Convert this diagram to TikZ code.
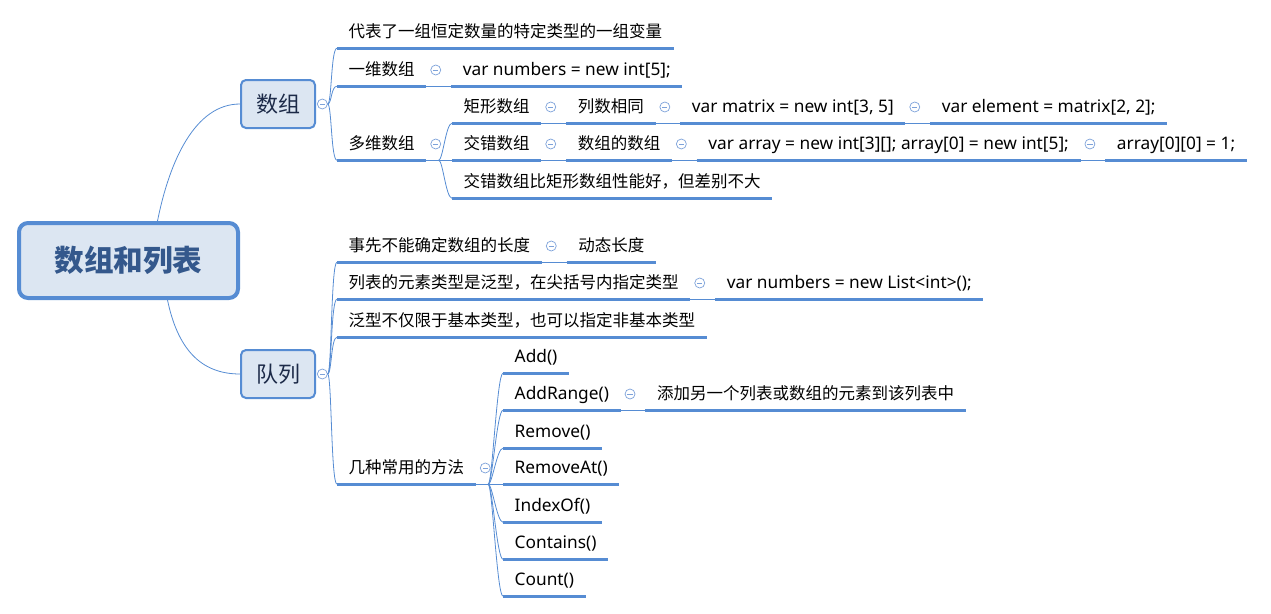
\documentclass[tikz,border=0pt]{standalone}
\usepackage{fontspec}
\setmainfont{Noto Sans CJK SC}
\newfontfamily\latinfont{Noto Sans}
\usetikzlibrary{positioning}
\definecolor{lineblue}{RGB}{86,140,211}
\definecolor{foldblue}{RGB}{125,162,218}
\definecolor{boxfill}{RGB}{220,230,242}
\definecolor{roottext}{RGB}{52,88,140}
\definecolor{topictext}{RGB}{28,42,72}

\tikzset{
  topic/.style={draw=lineblue, fill=boxfill, rounded corners=5pt, line width=2pt,
    minimum width=74pt, minimum height=48pt, inner sep=0pt, text=topictext,
    font=\fontsize{22}{24}\selectfont},
  leaf/.style={anchor=west, inner xsep=11.5pt, inner ysep=0pt, text height=21.5pt,
    text depth=10.5pt, font=\fontsize{16.5}{18}\selectfont},
  code/.style={leaf, font=\fontsize{17.3}{19}\latinfont},
  fold/.style={circle, draw=foldblue, fill=white, line width=0.7pt, inner sep=0pt,
    minimum size=10pt, path picture={\draw[foldblue, line width=0.7pt]
      ([xshift=-2.6pt]path picture bounding box.center) --
      ([xshift=2.6pt]path picture bounding box.center);}},
  uline/.style={draw=lineblue, line width=3pt},
  link/.style={draw=lineblue, line width=0.8pt},
}

\begin{document}
\begin{tikzpicture}[x=1pt, y=-1pt]
    \useasboundingbox (0,0) rectangle (1271,613);

    % central topic and main branches
    \node[draw=lineblue, fill=boxfill, line width=4pt, rounded corners=9pt,
      minimum width=219pt, minimum height=75pt, text=roottext,
      font=\fontsize{29.6}{32}\selectfont\bfseries] (root) at (128.5,260.5) {数组和列表};
    \node[topic] (arr) at (278,104) {数组};
    \node[topic] (lst) at (278,374) {队列};
    \node[fold, right=1pt of arr] (farr) {};
    \node[fold, right=1pt of lst] (flst) {};

    % arrays
    \node[leaf] (adef) at (337,32) {代表了一组恒定数量的特定类型的一组变量};
    \node[leaf] (aone) at (337,70) {一维数组};
    \node[fold, right=4pt of aone] (fone) {};
    \node[code, right=10pt of fone] (aonev) {var numbers = new int[5];};
    \node[leaf] (amul) at (337,144) {多维数组};
    \node[fold, right=4pt of amul] (fmul) {};

    \node[leaf] (arect) at (452,107) {矩形数组};
    \node[fold, right=4pt of arect] (frect) {};
    \node[leaf, right=10pt of frect] (arectsame) {列数相同};
    \node[fold, right=4pt of arectsame] (frectsame) {};
    \node[code, right=10pt of frectsame] (arectnew) {var matrix = new int[3, 5]};
    \node[fold, right=4pt of arectnew] (frectnew) {};
    \node[code, right=10pt of frectnew] (arectget) {var element = matrix[2, 2];};

    \node[leaf] (ajag) at (452,144) {交错数组};
    \node[fold, right=4pt of ajag] (fjag) {};
    \node[leaf, right=10pt of fjag] (ajagarr) {数组的数组};
    \node[fold, right=4pt of ajagarr] (fjagarr) {};
    \node[code, right=10pt of fjagarr] (ajagnew) {var array = new int[3][]; array[0] = new int[5];};
    \node[fold, right=4pt of ajagnew] (fjagnew) {};
    \node[code, right=10pt of fjagnew] (ajagset) {array[0][0] = 1;};
    \node[leaf] (ajagcmp) at (452,182) {交错数组比矩形数组性能好，但差别不大};

    % lists
    \node[leaf] (ldyn) at (337,246) {事先不能确定数组的长度};
    \node[fold, right=4pt of ldyn] (fdyn) {};
    \node[leaf, right=10pt of fdyn] (ldynlen) {动态长度};
    \node[leaf] (lgen) at (337,283) {列表的元素类型是泛型，在尖括号内指定类型};
    \node[fold, right=4pt of lgen] (fgen) {};
    \node[code, right=10pt of fgen] (lgennew) {var numbers = new List<int>();};
    \node[leaf] (lnon) at (337,321) {泛型不仅限于基本类型，也可以指定非基本类型};
    \node[leaf] (lmeth) at (337,468) {几种常用的方法};
    \node[fold, right=4pt of lmeth] (fmeth) {};

    \node[code] (madd) at (503,357) {Add()};
    \node[code] (mrange) at (503,394) {AddRange()};
    \node[fold, right=4pt of mrange] (frange) {};
    \node[leaf, right=10pt of frange] (mrangetxt) {添加另一个列表或数组的元素到该列表中};
    \node[code] (mremove) at (503,432) {Remove()};
    \node[code] (mremoveat) at (503,468) {RemoveAt()};
    \node[code] (mindex) at (503,506) {IndexOf()};
    \node[code] (mcontains) at (503,543) {Contains()};
    \node[code] (mcount) at (503,580) {Count()};

    % trunk points
    \path (fmul.center |- amul.south) ++(3,0) coordinate (tmul);
    \path (fmeth.center |- lmeth.south) ++(3,0) coordinate (tmeth);

    % connectors
    \draw[link] ([xshift=29pt]root.north) .. controls +(12,-60) and +(-45,0) .. (arr.west);
    \draw[link] ([xshift=39pt]root.south) .. controls +(10,48) and +(-40,0) .. (lst.west);
    \foreach \n in {adef,aone,amul}
      \draw[link] (farr.east) .. controls +(4,0) and +(-6,0) .. (\n.south west);
    \foreach \n in {ldyn,lgen,lnon,lmeth}
      \draw[link] (flst.east) .. controls +(4,0) and +(-6,0) .. (\n.south west);
    \draw[link] (amul.south east) -- (tmul);
    \foreach \n in {arect,ajag,ajagcmp}
      \draw[link] (tmul) .. controls +(4,0) and +(-6,0) .. (\n.south west);
    \draw[link] (lmeth.south east) -- (tmeth);
    \foreach \n in {madd,mrange,mremove,mremoveat,mindex,mcontains,mcount}
      \draw[link] (tmeth) .. controls +(4,0) and +(-6,0) .. (\n.south west);
    \draw[link] (aone.south east) -- (aonev.south west);
    \draw[link] (arect.south east) -- (arectsame.south west);
    \draw[link] (arectsame.south east) -- (arectnew.south west);
    \draw[link] (arectnew.south east) -- (arectget.south west);
    \draw[link] (ajag.south east) -- (ajagarr.south west);
    \draw[link] (ajagarr.south east) -- (ajagnew.south west);
    \draw[link] (ajagnew.south east) -- (ajagset.south west);
    \draw[link] (ldyn.south east) -- (ldynlen.south west);
    \draw[link] (lgen.south east) -- (lgennew.south west);
    \draw[link] (mrange.south east) -- (mrangetxt.south west);

    % underlines
    \foreach \n in {adef,aone,aonev,amul,arect,arectsame,arectnew,arectget,
        ajag,ajagarr,ajagnew,ajagset,ajagcmp,ldyn,ldynlen,lgen,lgennew,lnon,lmeth,
        madd,mrange,mrangetxt,mremove,mremoveat,mindex,mcontains,mcount}
      \draw[uline] (\n.south west) -- (\n.south east);
\end{tikzpicture}
\end{document}
